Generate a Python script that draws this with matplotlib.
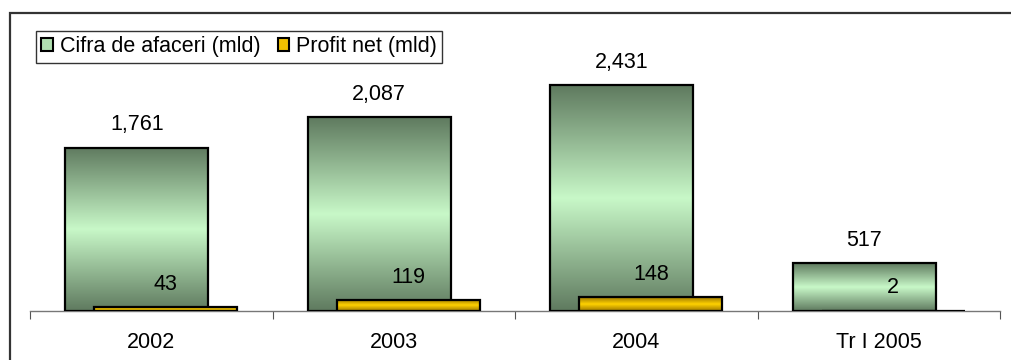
import numpy as np
import matplotlib
matplotlib.use('Agg')
import matplotlib.pyplot as plt
from matplotlib.colors import LinearSegmentedColormap
from matplotlib.patches import Patch, Rectangle

plt.rcParams['font.family'] = ['Liberation Sans', 'DejaVu Sans']

categories = ['2002', '2003', '2004', 'Tr I 2005']
cifra = [1761, 2087, 2431, 517]
profit = [43, 119, 148, 2]
labels = ['Cifra de afaceri (mld)', 'Profit net (mld)']

green_cm = LinearSegmentedColormap.from_list('g', ['#5f7a5f', '#c8f8c8', '#5f7a5f'])
yellow_cm = LinearSegmentedColormap.from_list('y', ['#9c7800', '#ffd200', '#9c7800'])


def gradient_bars(ax, bars, cmap, z):
    grad = np.linspace(0, 1, 256).reshape(-1, 1)
    for b in bars:
        x0, y0 = b.get_x(), b.get_y()
        w, h = b.get_width(), b.get_height()
        im = ax.imshow(grad, cmap=cmap, aspect='auto', extent=(x0, x0 + w, y0, y0 + h),
                       origin='lower', zorder=z, interpolation='bilinear')
        im.set_clip_path(b)


fig = plt.figure(figsize=(10.12, 3.6), dpi=100)
ax = fig.add_axes([30 / 1012, 49 / 360, 970 / 1012, 298 / 360])

x = np.arange(len(categories))
w = 0.59
off = 0.06
fs = 15.5

g_bars = ax.bar(x - off, cifra, w, facecolor='none', edgecolor='black', linewidth=1.6, zorder=3)
gradient_bars(ax, g_bars, green_cm, 2)
p_bars = ax.bar(x + off, profit, w, facecolor='none', edgecolor='black', linewidth=1.6, zorder=5)
gradient_bars(ax, p_bars, yellow_cm, 4)

for xi, v in zip(x - off, cifra):
    ax.annotate(f'{v:,}', (xi, v), xytext=(0, 16.5), textcoords='offset points',
                ha='center', va='center', fontsize=fs, zorder=6)
for xi, v in zip(x + off, profit):
    ax.annotate(f'{v:,}', (xi, v), xytext=(0, 16.5), textcoords='offset points',
                ha='center', va='center', fontsize=fs, zorder=6)

ax.set_xlim(-0.5, len(categories) - 0.5)
ax.set_ylim(0, 3210)
ax.set_yticks([])
for s in ['top', 'left', 'right']:
    ax.spines[s].set_visible(False)
ax.spines['bottom'].set_color('#777777')
ax.spines['bottom'].set_linewidth(1.0)

ax.set_xticks(np.arange(len(categories) + 1) - 0.5)
ax.set_xticklabels([])
ax.tick_params(axis='x', which='major', length=5.5, color='#555555', direction='out')
ax.set_xticks(x, minor=True)
ax.set_xticklabels(categories, minor=True, fontsize=fs)
ax.tick_params(axis='x', which='minor', length=0, pad=15)
ax.set_facecolor('none')

# outer chart frame (cut off at right and bottom)
fig.patches.append(Rectangle((10 / 1012, -0.1), 1.2, 1 - 13 / 360 + 0.1, transform=fig.transFigure,
                             fill=False, edgecolor='#333333', linewidth=1.6, zorder=0))

handles = [Patch(facecolor='#b0e0b0', edgecolor='black', linewidth=1.5),
           Patch(facecolor='#f0c000', edgecolor='black', linewidth=1.5)]
leg = fig.legend(handles, labels, loc='upper left', bbox_to_anchor=(36 / 1012, 1 - 31 / 360),
                 ncol=2, fontsize=fs, frameon=True, fancybox=False, borderaxespad=0,
                 borderpad=0.25, handlelength=0.55, handleheight=0.55, handletextpad=0.3,
                 columnspacing=0.8)
leg.get_frame().set_edgecolor('black')
leg.get_frame().set_linewidth(1.0)

fig.savefig('out.png', dpi=100)
